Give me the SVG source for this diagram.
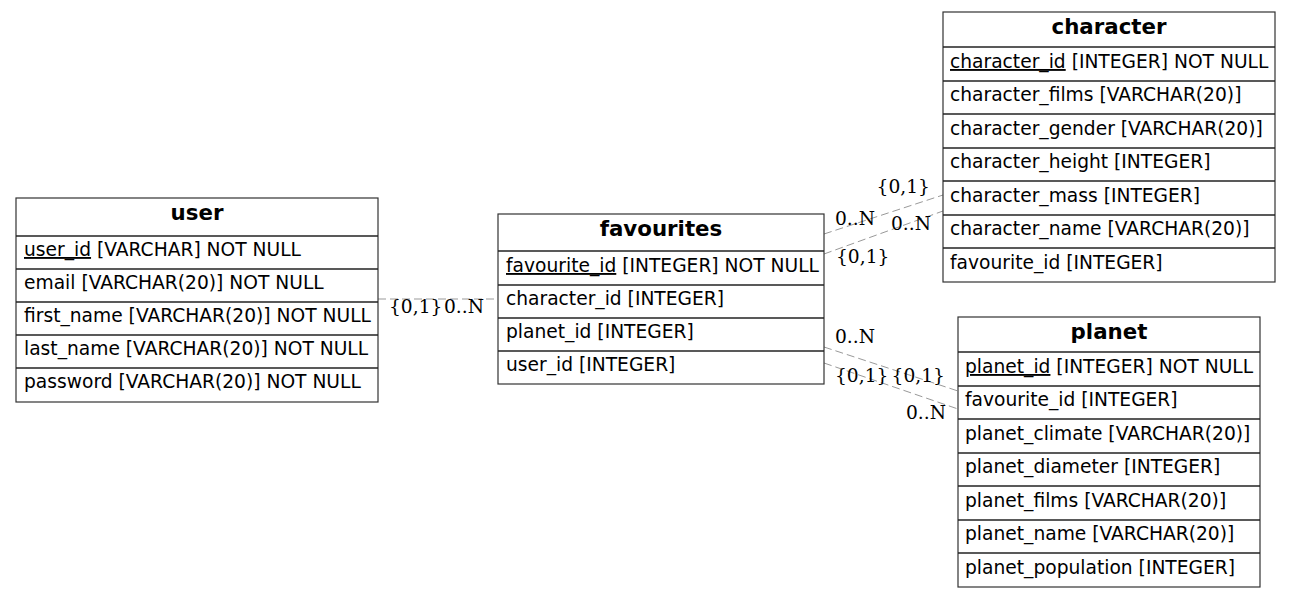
<svg xmlns="http://www.w3.org/2000/svg" width="1291" height="597" viewBox="0 0 1291 597">
<style>
.box{fill:#fff;stroke:#333;stroke-width:1.2}
.sep{stroke:#222;stroke-width:1.5}
.t{font-family:"DejaVu Sans",sans-serif;font-size:18.67px;fill:#000}
.h{font-family:"DejaVu Sans",sans-serif;font-size:21.33px;font-weight:bold;fill:#000;text-anchor:middle}
.pk{text-decoration:underline}
.e{stroke:#999;stroke-width:1;stroke-dasharray:8,4;fill:none}
.l{font-family:"DejaVu Serif",serif;font-size:18.67px;fill:#000}
.r{text-anchor:end}
</style>
<rect width="1291" height="597" fill="#fff"/>
<g id="connectors">
<line class="e" x1="378" y1="299" x2="498" y2="299"/>
<line class="e" x1="824" y1="234" x2="943" y2="195"/>
<line class="e" x1="824" y1="254" x2="943" y2="211"/>
<line class="e" x1="824" y1="347" x2="958" y2="391"/>
<line class="e" x1="824" y1="363" x2="958" y2="409"/>
<text class="l" x="389" y="313">{0,1}</text>
<text class="l" x="444" y="313">0..N</text>
<text class="l r" x="930" y="193">{0,1}</text>
<text class="l" x="835" y="225">0..N</text>
<text class="l r" x="931" y="230">0..N</text>
<text class="l" x="836" y="263">{0,1}</text>
<text class="l" x="835" y="343">0..N</text>
<text class="l" x="835" y="382">{0,1}</text>
<text class="l r" x="945" y="382">{0,1}</text>
<text class="l r" x="946" y="419">0..N</text>
</g>
<g id="user">
<rect class="box" x="16" y="198" width="362" height="204"/>
<text class="h" x="197" y="220">user</text>
<line class="sep" x1="16" y1="236" x2="378" y2="236"/>
<line class="sep" x1="16" y1="269" x2="378" y2="269"/>
<line class="sep" x1="16" y1="302" x2="378" y2="302"/>
<line class="sep" x1="16" y1="335" x2="378" y2="335"/>
<line class="sep" x1="16" y1="368" x2="378" y2="368"/>
<text class="t" x="24" y="256"><tspan class="pk">user_id</tspan> [VARCHAR] NOT NULL</text>
<text class="t" x="24" y="289">email [VARCHAR(20)] NOT NULL</text>
<text class="t" x="24" y="322">first_name [VARCHAR(20)] NOT NULL</text>
<text class="t" x="24" y="355">last_name [VARCHAR(20)] NOT NULL</text>
<text class="t" x="24" y="388">password [VARCHAR(20)] NOT NULL</text>
</g>
<g id="favourites">
<rect class="box" x="498" y="214" width="326" height="170"/>
<text class="h" x="661" y="236">favourites</text>
<line class="sep" x1="498" y1="251" x2="824" y2="251"/>
<line class="sep" x1="498" y1="285" x2="824" y2="285"/>
<line class="sep" x1="498" y1="318" x2="824" y2="318"/>
<line class="sep" x1="498" y1="351" x2="824" y2="351"/>
<text class="t" x="506" y="272"><tspan class="pk">favourite_id</tspan> [INTEGER] NOT NULL</text>
<text class="t" x="506" y="305">character_id [INTEGER]</text>
<text class="t" x="506" y="338">planet_id [INTEGER]</text>
<text class="t" x="506" y="371">user_id [INTEGER]</text>
</g>
<g id="character">
<rect class="box" x="943" y="12" width="332" height="270"/>
<text class="h" x="1109" y="34">character</text>
<line class="sep" x1="943" y1="47" x2="1275" y2="47"/>
<line class="sep" x1="943" y1="81" x2="1275" y2="81"/>
<line class="sep" x1="943" y1="114" x2="1275" y2="114"/>
<line class="sep" x1="943" y1="148" x2="1275" y2="148"/>
<line class="sep" x1="943" y1="181" x2="1275" y2="181"/>
<line class="sep" x1="943" y1="215" x2="1275" y2="215"/>
<line class="sep" x1="943" y1="248" x2="1275" y2="248"/>
<text class="t" x="950" y="68"><tspan class="pk">character_id</tspan> [INTEGER] NOT NULL</text>
<text class="t" x="950" y="101">character_films [VARCHAR(20)]</text>
<text class="t" x="950" y="135">character_gender [VARCHAR(20)]</text>
<text class="t" x="950" y="168">character_height [INTEGER]</text>
<text class="t" x="950" y="202">character_mass [INTEGER]</text>
<text class="t" x="950" y="235">character_name [VARCHAR(20)]</text>
<text class="t" x="950" y="269">favourite_id [INTEGER]</text>
</g>
<g id="planet">
<rect class="box" x="958" y="317" width="302" height="270"/>
<text class="h" x="1109" y="339">planet</text>
<line class="sep" x1="958" y1="352" x2="1260" y2="352"/>
<line class="sep" x1="958" y1="386" x2="1260" y2="386"/>
<line class="sep" x1="958" y1="419" x2="1260" y2="419"/>
<line class="sep" x1="958" y1="453" x2="1260" y2="453"/>
<line class="sep" x1="958" y1="486" x2="1260" y2="486"/>
<line class="sep" x1="958" y1="520" x2="1260" y2="520"/>
<line class="sep" x1="958" y1="553" x2="1260" y2="553"/>
<text class="t" x="965" y="373"><tspan class="pk">planet_id</tspan> [INTEGER] NOT NULL</text>
<text class="t" x="965" y="406">favourite_id [INTEGER]</text>
<text class="t" x="965" y="440">planet_climate [VARCHAR(20)]</text>
<text class="t" x="965" y="473">planet_diameter [INTEGER]</text>
<text class="t" x="965" y="507">planet_films [VARCHAR(20)]</text>
<text class="t" x="965" y="540">planet_name [VARCHAR(20)]</text>
<text class="t" x="965" y="574">planet_population [INTEGER]</text>
</g>
</svg>
